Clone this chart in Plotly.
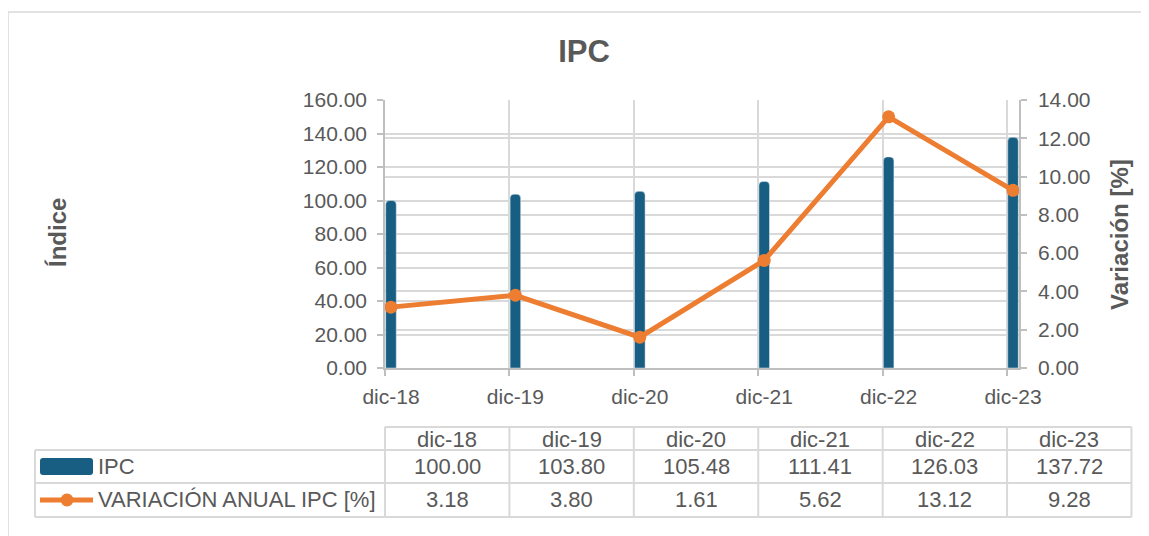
import plotly.graph_objects as go

# ---------------- data ----------------
categories = ["dic-18", "dic-19", "dic-20", "dic-21", "dic-22", "dic-23"]
ipc_values = [100.00, 103.80, 105.48, 111.41, 126.03, 137.72]
var_values = [3.18, 3.80, 1.61, 5.62, 13.12, 9.28]
series_names = ["IPC", "VARIACIÓN ANUAL IPC [%]"]
y1_title = "Índice"
y2_title = "Variación [%]"
chart_title = "IPC"

# ---------------- style ----------------
PAGE_OFF = 8  # default body margin of the html page
W, H = 1149 - PAGE_OFF, 536 - PAGE_OFF
ML = 385 - PAGE_OFF
MT = 100 - PAGE_OFF
MR = W - (1019 - PAGE_OFF)
MB = H - (368 - PAGE_OFF)
PW, PH = W - ML - MR, H - MT - MB
FONT = "Liberation Sans, Arial, sans-serif"
TXT = "#595959"
GRID = "#d9d9d9"
AXL = "#bfbfbf"
BLUE = "#175E82"
ORANGE = "#ED7D31"

xs = list(range(len(categories)))
off = 0.048
x_range = [-off, len(categories) - 1 + off]
span = x_range[1] - x_range[0]


def xp(px):  # page pixel -> paper x
    return (px - PAGE_OFF - ML) / PW


def yp(py):  # page pixel -> paper y
    return (H - MB - (py - PAGE_OFF)) / PH


def xd2p(xd):  # data x -> paper x
    return (xd - x_range[0]) / span


fig = go.Figure()
fig.add_trace(go.Bar(
    x=xs, y=ipc_values, name=series_names[0], width=0.085,
    marker=dict(color=BLUE, cornerradius=4), xaxis="x", yaxis="y",
    showlegend=False,
))
fig.add_trace(go.Scatter(
    x=xs, y=var_values, name=series_names[1], mode="lines+markers",
    line=dict(color=ORANGE, width=5), marker=dict(color=ORANGE, size=13),
    xaxis="x2", yaxis="y2", showlegend=False,
))

tickfont = dict(family=FONT, size=21, color=TXT)
bounds = [k - off for k in range(len(categories))]

fig.update_layout(
    width=W, height=H,
    margin=dict(l=ML, r=MR, t=MT, b=MB),
    paper_bgcolor="white", plot_bgcolor="white",
    font=dict(family=FONT, color=TXT),
    title=dict(text=chart_title, x=(584 - PAGE_OFF) / W, y=1 - (51 - PAGE_OFF) / H,
               xanchor="center", yanchor="middle", xref="container", yref="container",
               font=dict(family=FONT, size=31, color=TXT, weight="bold")),
    xaxis=dict(range=x_range, tickvals=bounds, ticktext=[""] * len(bounds),
               showgrid=True, gridcolor=GRID, gridwidth=1.5,
               ticks="outside", ticklen=6, tickcolor=AXL, tickwidth=1.5,
               showline=True, linecolor=AXL, linewidth=1.5, zeroline=False,
               fixedrange=True),
    xaxis2=dict(range=x_range, overlaying="x", anchor="y2", side="bottom",
                tickvals=xs, ticktext=categories, showgrid=False, ticks="",
                showline=False, zeroline=False, tickfont=tickfont,
                ticklabelstandoff=14),
    yaxis=dict(range=[0, 160], dtick=20, tickformat=".2f", showgrid=True,
               gridcolor=GRID, gridwidth=1.5, ticks="outside", ticklen=6,
               tickcolor=AXL, tickwidth=1.5, showline=True, linecolor=AXL,
               linewidth=1.5, zeroline=False, tickfont=tickfont,
               ticklabelstandoff=6),
    yaxis2=dict(range=[0, 14], dtick=2, tickformat=".2f", overlaying="y",
                side="right", anchor="x2", showgrid=True, gridcolor=GRID,
                gridwidth=1.5, ticks="outside", ticklen=6, tickcolor=AXL,
                tickwidth=1.5, showline=True, linecolor=AXL, linewidth=1.5,
                zeroline=False, tickfont=tickfont, ticklabelstandoff=7),
)

shapes = []
annotations = []

# outer chart border
shapes.append(dict(type="rect", xref="paper", yref="paper",
                   x0=xp(8), x1=xp(1149 + 50), y0=yp(12), y1=yp(536 + 50),
                   line=dict(color=GRID, width=1.5), layer="below"))

# axis titles
annotations.append(dict(text=y1_title, xref="paper", yref="paper",
                        x=xp(57), y=yp(233), textangle=-90, showarrow=False,
                        xanchor="center", yanchor="middle",
                        font=dict(family=FONT, size=24, color=TXT, weight="bold")))
annotations.append(dict(text=y2_title, xref="paper", yref="paper",
                        x=xp(1119), y=yp(235), textangle=-90, showarrow=False,
                        xanchor="center", yanchor="middle",
                        font=dict(family=FONT, size=24, color=TXT, weight="bold")))

# ---------------- data table ----------------
tb_line = dict(color=GRID, width=2)
y_head_top, y_r1, y_r2, y_bot = 427, 450, 483, 517
x_label_left = 35
n = len(categories)
col_edges = [xd2p(k - off) for k in range(n + 1)]
right_edge = col_edges[-1]

shapes.append(dict(type="line", xref="paper", yref="paper", x0=col_edges[0],
                   x1=right_edge, y0=yp(y_head_top), y1=yp(y_head_top), line=tb_line))
for yy in (y_r1, y_r2, y_bot):
    shapes.append(dict(type="line", xref="paper", yref="paper", x0=xp(x_label_left),
                       x1=right_edge, y0=yp(yy), y1=yp(yy), line=tb_line))
shapes.append(dict(type="line", xref="paper", yref="paper", x0=xp(x_label_left),
                   x1=xp(x_label_left), y0=yp(y_r1), y1=yp(y_bot), line=tb_line))
for ce in col_edges:
    shapes.append(dict(type="line", xref="paper", yref="paper", x0=ce, x1=ce,
                       y0=yp(y_head_top), y1=yp(y_bot), line=tb_line))

cell_font = dict(family=FONT, size=22, color=TXT)
row_centers = [(y_head_top + y_r1) / 2 + 1, (y_r1 + y_r2) / 2, (y_r2 + y_bot) / 2]
for i, cat in enumerate(categories):
    cx = xd2p(i + 0.5 - off)
    annotations.append(dict(text=cat, xref="paper", yref="paper", x=cx,
                            y=yp(row_centers[0]), showarrow=False,
                            xanchor="center", yanchor="middle", font=cell_font))
    annotations.append(dict(text=f"{ipc_values[i]:.2f}", xref="paper", yref="paper",
                            x=cx, y=yp(row_centers[1]), showarrow=False,
                            xanchor="center", yanchor="middle", font=cell_font))
    annotations.append(dict(text=f"{var_values[i]:.2f}", xref="paper", yref="paper",
                            x=cx, y=yp(row_centers[2]), showarrow=False,
                            xanchor="center", yanchor="middle", font=cell_font))

# legend keys inside the table
kx0, kx1 = 40, 93
ky0, ky1 = 458, 475
r = 3
path = (f"M {xp(kx0 + r)},{yp(ky0)} L {xp(kx1 - r)},{yp(ky0)} "
        f"Q {xp(kx1)},{yp(ky0)} {xp(kx1)},{yp(ky0 + r)} "
        f"L {xp(kx1)},{yp(ky1 - r)} Q {xp(kx1)},{yp(ky1)} {xp(kx1 - r)},{yp(ky1)} "
        f"L {xp(kx0 + r)},{yp(ky1)} Q {xp(kx0)},{yp(ky1)} {xp(kx0)},{yp(ky1 - r)} "
        f"L {xp(kx0)},{yp(ky0 + r)} Q {xp(kx0)},{yp(ky0)} {xp(kx0 + r)},{yp(ky0)} Z")
shapes.append(dict(type="path", xref="paper", yref="paper", path=path,
                   fillcolor=BLUE, line=dict(width=0)))
ly = row_centers[2]
shapes.append(dict(type="line", xref="paper", yref="paper", x0=xp(kx0), x1=xp(kx1),
                   y0=yp(ly), y1=yp(ly), line=dict(color=ORANGE, width=5)))
shapes.append(dict(type="circle", xref="paper", yref="paper",
                   x0=xp(67 - 6.5), x1=xp(67 + 6.5), y0=yp(ly - 6.5), y1=yp(ly + 6.5),
                   fillcolor=ORANGE, line=dict(width=0)))

for name, rc in zip(series_names, row_centers[1:]):
    annotations.append(dict(text=name, xref="paper", yref="paper", x=xp(96),
                            y=yp(rc), showarrow=False, xanchor="left",
                            yanchor="middle", font=cell_font))

fig.update_layout(shapes=shapes, annotations=annotations)
fig.write_html("out.html")
